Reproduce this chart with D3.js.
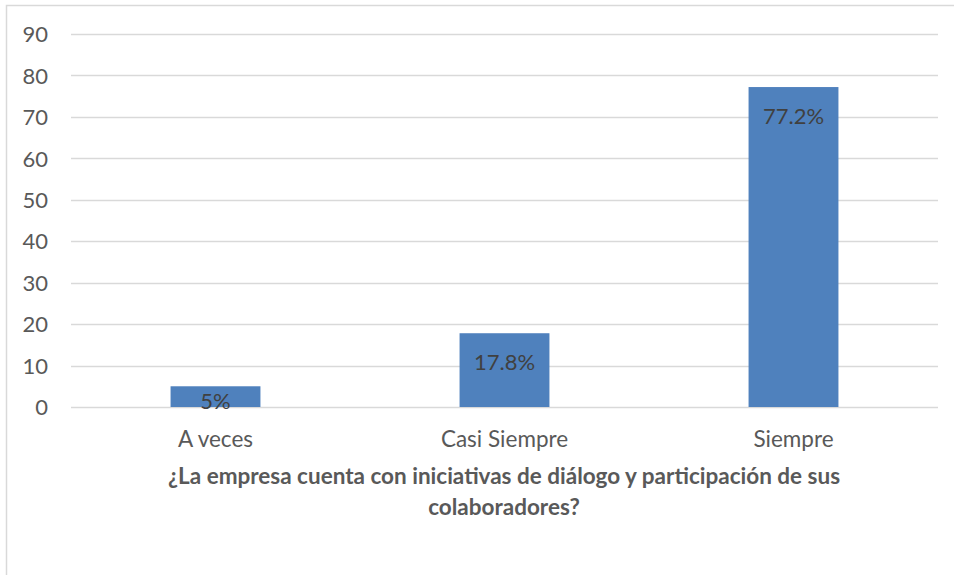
<!DOCTYPE html>
<html>
<head>
<meta charset="utf-8">
<script src="https://cdn.jsdelivr.net/npm/d3@7/dist/d3.min.js"></script>
<style>
  html, body { margin: 0; padding: 0; background: #fff; }
  svg { display: block; }
</style>
</head>
<body>
<svg id="chart" width="954" height="575"></svg>
<script>
// Survey answers and their shares (%)
const categories = ["A veces", "Casi Siempre", "Siempre"];
const values = [5, 17.8, 77.2];
const valueLabels = ["5%", "17.8%", "77.2%"];
const yTicks = [0, 10, 20, 30, 40, 50, 60, 70, 80, 90];
const titleLines = [
  "¿La empresa cuenta con iniciativas de diálogo y participación de sus",
  "colaboradores?"
];

const svg = d3.select("#chart");
const FONT = "Lato, 'Open Sans', sans-serif";

// Outer chart frame
svg.append("rect")
  .attr("x", 6.5).attr("y", 5.5)
  .attr("width", 1000).attr("height", 1000)
  .attr("fill", "none")
  .attr("stroke", "#D9D9D9")
  .attr("stroke-width", 1.5);

const plot = { left: 71, right: 938, top: 34, bottom: 407 };

const x = d3.scaleBand()
  .domain(categories)
  .range([plot.left, plot.right])
  .paddingInner(0.689)
  .paddingOuter(0.3445);

const y = d3.scaleLinear()
  .domain([0, 90])
  .range([plot.bottom, plot.top]);

// Horizontal gridlines
svg.append("g")
  .selectAll("line")
  .data(yTicks)
  .join("line")
  .attr("x1", plot.left).attr("x2", plot.right)
  .attr("y1", d => Math.round(y(d)) + 0.5)
  .attr("y2", d => Math.round(y(d)) + 0.5)
  .attr("stroke", "#D9D9D9")
  .attr("stroke-width", 1.5);

// Y axis labels
const yAxis = d3.axisLeft(y).tickValues(yTicks).tickSize(0).tickPadding(0);
const yg = svg.append("g")
  .attr("transform", `translate(48,0)`)
  .call(yAxis);
yg.select(".domain").remove();
yg.selectAll("text")
  .attr("font-family", FONT)
  .attr("font-size", 22)
  .attr("fill", "#595959")
  .attr("dy", "0.35em");

// Bars
svg.append("g")
  .selectAll("rect")
  .data(values)
  .join("rect")
  .attr("x", (d, i) => x(categories[i]))
  .attr("width", x.bandwidth())
  .attr("y", d => y(d))
  .attr("height", d => y(0) - y(d))
  .attr("fill", "#4F81BD");

// Value labels at the inside end of each bar, kept above the baseline
svg.append("g")
  .selectAll("text")
  .data(values)
  .join("text")
  .attr("x", (d, i) => x(categories[i]) + x.bandwidth() / 2)
  .attr("y", d => Math.min(y(d) + 29, y(0) - 6))
  .attr("dy", "0.35em")
  .attr("text-anchor", "middle")
  .attr("font-family", FONT)
  .attr("font-size", 22)
  .attr("fill", "#404040")
  .text((d, i) => valueLabels[i]);

// Category axis labels
const xAxis = d3.axisBottom(x).tickSize(0).tickPadding(0);
const xg = svg.append("g")
  .attr("transform", `translate(0,439)`)
  .call(xAxis);
xg.select(".domain").remove();
xg.selectAll("text")
  .attr("font-family", FONT)
  .attr("font-size", 22.5)
  .attr("fill", "#595959")
  .attr("dy", "0.35em");

// Axis title
svg.append("g")
  .selectAll("text")
  .data(titleLines)
  .join("text")
  .attr("x", 504)
  .attr("y", (d, i) => 476 + i * 31)
  .attr("dy", "0.35em")
  .attr("text-anchor", "middle")
  .attr("font-family", FONT)
  .attr("font-weight", "bold")
  .attr("font-size", 22.5)
  .attr("fill", "#595959")
  .text(d => d);
</script>
</body>
</html>
